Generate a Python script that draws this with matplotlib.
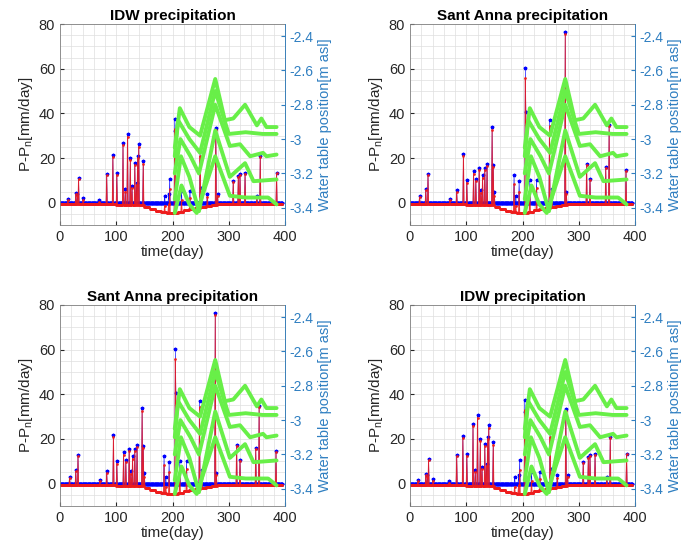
import numpy as np
import matplotlib.pyplot as plt
from matplotlib.ticker import MultipleLocator, FuncFormatter

plt.rcParams['font.family'] = ['Liberation Sans', 'DejaVu Sans']
plt.rcParams['mathtext.default'] = 'regular'

# === daily time axis ===
days = np.arange(0, 396)

# evaporation-like loss, one value per 10 days (mm/day)
pn_10day = [0.5, 0.5, 0.8, 0.8, 0.8, 0.8, 0.8, 0.8, 0.8, 0.8,
            1.0, 1.0, 1.0, 1.0, 1.2, 1.8, 2.8, 3.8, 4.3, 4.5,
            4.5, 4.0, 3.5, 3.0, 2.5, 2.0, 1.5, 1.0, 0.8, 0.6,
            0.5, 0.5, 0.5, 0.5, 0.5, 0.4, 0.4, 0.4, 0.4, 0.4]

# === IDW precipitation events ===
idw_days = [14, 28, 31, 33, 41, 70, 83, 94, 101, 112, 116, 120, 125, 128, 133,
            136, 138, 140, 148, 186, 193, 195, 204, 205, 216, 231, 249, 250,
            262, 277, 280, 308, 317, 320, 329, 350, 356, 385]
idw_vals = [1.5, 4.5, 3.8, 11.2, 2.0, 1.0, 13.0, 21.2, 13.5, 26.9, 6.0, 30.6,
            20.2, 7.5, 17.9, 9.0, 20.9, 26.2, 18.7, 3.0, 3.7, 10.5, 37.4, 32.0,
            5.2, 5.2, 23.2, 6.7, 4.0, 33.6, 4.0, 9.7, 12.0, 12.7, 13.5, 3.0,
            21.0, 13.5]

# === Sant Anna precipitation events ===
sa_days = [17, 28, 32, 71, 83, 95, 101, 113, 117, 123, 126, 129, 133, 137, 146,
           148, 150, 185, 188, 194, 205, 206, 213, 225, 248, 252, 276, 278,
           314, 320, 348, 354, 384]
sa_vals = [3.0, 6.3, 13.0, 1.8, 5.5, 21.9, 10.0, 14.0, 10.7, 15.5, 5.5, 12.2,
           15.6, 17.4, 33.8, 17.0, 4.8, 12.5, 3.0, 9.5, 60.2, 40.5, 10.0, 10.0,
           36.8, 6.3, 76.3, 4.8, 17.4, 10.7, 16.0, 34.6, 14.5]

# === water table at five piezometers [m asl] ===
wt1_days = [204, 213, 230, 249, 276, 293, 308, 329, 350, 358, 367, 385]
wt1_vals = [-3.05, -2.82, -2.93, -2.98, -2.65, -2.89, -2.88, -2.80, -2.92,
            -2.88, -2.93, -2.93]
wt2_days = [204, 210, 230, 249, 276, 300, 330, 360, 385]
wt2_vals = [-3.10, -2.89, -3.00, -3.08, -2.72, -2.97, -2.96, -2.97, -2.97]
wt3_days = [204, 214, 232, 247, 276, 302, 320, 338, 361, 367, 385]
wt3_vals = [-3.20, -3.00, -3.10, -3.20, -2.80, -3.04, -3.03, -3.10, -3.08,
            -3.10, -3.09]
wt4_days = [204, 215, 230, 247, 276, 302, 329, 344, 385]
wt4_vals = [-3.35, -3.10, -3.22, -3.42, -2.95, -3.22, -3.14, -3.245, -3.235]
wt5_days = [204, 216, 230, 243, 276, 302, 330, 370, 385]
wt5_vals = [-3.43, -3.27, -3.38, -3.43, -3.10, -3.33, -3.34, -3.34, -3.38]

wt_series = [(wt1_days, wt1_vals), (wt2_days, wt2_vals), (wt3_days, wt3_vals),
             (wt4_days, wt4_vals), (wt5_days, wt5_vals)]

pn = np.repeat(pn_10day, 10)[:len(days)]

def daily(ev_days, ev_vals):
    p = np.zeros(len(days))
    p[ev_days] = ev_vals
    return p

tick_col = '#262626'
right_col = '#2f7fc1'
green = '#68ef48'

def panel(rect, title, p):
    ax = fig.add_axes(rect)
    ax.plot(days, p, color='b', marker='*', ms=2.5, lw=0.4)
    ax.plot(days, p - pn, color='#ee1c1c', marker='.', ms=2, lw=0.7, alpha=0.9)
    ax.set_xlim(0, 400)
    ax.set_ylim(-10, 80)
    ax.set_xticks([0, 100, 200, 300, 400])
    ax.set_yticks([0, 20, 40, 60, 80])
    ax.xaxis.set_minor_locator(MultipleLocator(20))
    ax.yaxis.set_minor_locator(MultipleLocator(5))
    ax.grid(which='both', color='#dedede', lw=0.5)
    ax.set_axisbelow(True)
    ax.tick_params(which='both', direction='in', colors=tick_col, labelsize=10.5,
                   length=3)
    ax.tick_params(which='minor', length=0)
    for s in ax.spines.values():
        s.set_color('#808080')
        s.set_linewidth(0.6)
    ax.set_title(title, fontsize=11, fontweight='bold', pad=3)
    ax.set_xlabel('time(day)', fontsize=11, color=tick_col, labelpad=1)
    ax.set_ylabel('P-P$_n$[mm/day]', fontsize=11, color=tick_col, labelpad=3)

    ax2 = ax.twinx()
    for d, v in wt_series:
        ax2.plot(d, v, color=green, lw=2.8, solid_joinstyle='round',
                 solid_capstyle='round')
    ax2.set_ylim(-3.5, -2.33)
    ax2.set_yticks([-3.4, -3.2, -3.0, -2.8, -2.6, -2.4])
    ax2.yaxis.set_major_formatter(FuncFormatter(lambda v, pos: '%g' % v))
    ax2.tick_params(direction='in', colors=right_col, labelsize=10, length=3)
    ax2.spines['right'].set_color(right_col)
    ax2.spines['right'].set_linewidth(0.6)
    for k in ['left', 'top', 'bottom']:
        ax2.spines[k].set_visible(False)
    ax2.set_ylabel('Water table position[m asl]', fontsize=10.5, color=right_col,
                   labelpad=3)
    return ax, ax2

fig = plt.figure(figsize=(6.83, 5.51), dpi=100)

w, h = 225 / 683, 201 / 551
panel([60 / 683, 326 / 551, w, h], 'IDW precipitation', daily(idw_days, idw_vals))
panel([410 / 683, 326 / 551, w, h], 'Sant Anna precipitation', daily(sa_days, sa_vals))
panel([60 / 683, 45 / 551, w, h], 'Sant Anna precipitation', daily(sa_days, sa_vals))
panel([410 / 683, 45 / 551, w, h], 'IDW precipitation', daily(idw_days, idw_vals))

fig.savefig('out.png', dpi=100)
